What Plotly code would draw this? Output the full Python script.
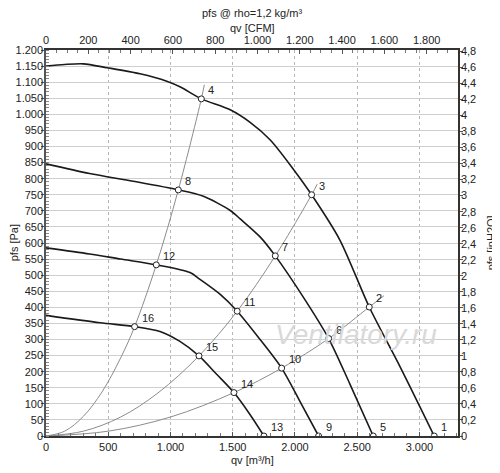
import plotly.graph_objects as go

# fan curves, qv [m3/h] / pfs [Pa]
qv_1 = [0, 150, 300, 490, 755, 970, 1080, 1248, 1480, 1640, 1800, 1990, 2134, 2360, 2597, 2845, 3119]
pf_1 = [1150, 1155, 1157, 1145, 1126, 1103, 1085, 1048, 1014, 975, 921, 828, 750, 610, 401, 215, 0]
qv_2 = [0, 350, 700, 1063, 1265, 1480, 1560, 1720, 1842, 2080, 2271, 2440, 2629]
pf_2 = [846, 816, 792, 765, 745, 701, 675, 619, 560, 424, 303, 163, 0]
qv_3 = [0, 350, 600, 886, 1157, 1240, 1400, 1536, 1720, 1893, 2040, 2190]
pf_3 = [585, 566, 550, 532, 508, 486, 440, 388, 300, 211, 108, 0]
qv_4 = [0, 434, 712, 916, 1076, 1229, 1371, 1510, 1640, 1751]
pf_4 = [375, 352, 340, 325, 294, 249, 192, 135, 66, 0]

# system curves
sys_a_qv = [0, 150, 300, 450, 600, 712, 886, 1063, 1248, 1272]
sys_a_pf = [0, 15, 61, 137, 243, 340, 532, 765, 1048, 1092]
sys_b_qv = [0, 300, 600, 900, 1229, 1536, 1842, 2134, 2179]
sys_b_pf = [0, 15, 59, 134, 249, 388, 560, 750, 783]
sys_c_qv = [0, 500, 1000, 1510, 1893, 2271, 2597, 2715]
sys_c_pf = [0, 15, 59, 135, 211, 303, 401, 436]

# operating points
op_labels = ['1', '2', '3', '4', '5', '6', '7', '8',
             '9', '10', '11', '12', '13', '14', '15', '16']
op_qv = [3119, 2597, 2134, 1248, 2629, 2271, 1842, 1063,
         2190, 1893, 1536, 886, 1751, 1510, 1229, 712]
op_pf = [0, 401, 750, 1048, 0, 303, 560, 765,
         0, 211, 388, 532, 0, 135, 249, 340]

# ticks
pa_ticks = list(range(0, 1201, 50))
pa_text = ['0', '50', '100', '150', '200', '250', '300', '350', '400', '450',
           '500', '550', '600', '650', '700', '750', '800', '850', '900',
           '950', '1.000', '1.050', '1.100', '1.150', '1.200']
inh2o_ticks = [i * 0.2 for i in range(25)]
inh2o_text = ['0', '0,2', '0,4', '0,6', '0,8', '1', '1,2', '1,4', '1,6', '1,8',
              '2', '2,2', '2,4', '2,6', '2,8', '3', '3,2', '3,4', '3,6', '3,8',
              '4', '4,2', '4,4', '4,6', '4,8']
qv_ticks = [0, 500, 1000, 1500, 2000, 2500, 3000]
qv_text = ['0', '500', '1.000', '1.500', '2.000', '2.500', '3.000']
cfm_ticks = [0, 200, 400, 600, 800, 1000, 1200, 1400, 1600, 1800]
cfm_text = ['0', '200', '400', '600', '800', '1.000', '1.200', '1.400',
            '1.600', '1.800']

QV_MAX = 3310
PA_MAX = 1200
M3H_PER_CFM = 1.699
PA_PER_INH2O = 249.089

fig = go.Figure()

for sx, sy in [(sys_a_qv, sys_a_pf), (sys_b_qv, sys_b_pf), (sys_c_qv, sys_c_pf)]:
    fig.add_trace(go.Scatter(x=sx, y=sy, mode='lines',
                             line=dict(color='#8c8c8c', width=1, shape='spline'),
                             hoverinfo='skip'))

for fx, fy in [(qv_1, pf_1), (qv_2, pf_2), (qv_3, pf_3), (qv_4, pf_4)]:
    fig.add_trace(go.Scatter(x=fx, y=fy, mode='lines',
                             line=dict(color='#1a1a1a', width=1.6, shape='spline',
                                       smoothing=0.8),
                             hoverinfo='skip'))

fig.add_trace(go.Scatter(
    x=op_qv, y=op_pf, mode='markers',
    marker=dict(symbol='circle', size=6, color='white',
                line=dict(color='#222', width=1)),
    text=op_labels, hovertemplate='%{text}<extra></extra>'))

# same points in CFM / inH2O, invisible, so the secondary axes get drawn
fig.add_trace(go.Scatter(
    x=[q / M3H_PER_CFM for q in op_qv], y=[p / PA_PER_INH2O for p in op_pf],
    xaxis='x2', yaxis='y2', mode='markers', marker=dict(opacity=0),
    hoverinfo='skip'))

for lab, qx, py in zip(op_labels, op_qv, op_pf):
    fig.add_annotation(x=qx, y=py, text=lab, showarrow=False,
                       xanchor='left', yanchor='bottom', xshift=5, yshift=1,
                       font=dict(size=11, color='#222'))

# watermark
fig.add_annotation(x=0.753, y=0.263, xref='paper', yref='paper',
                   xanchor='center', yanchor='middle',
                   text='<i>Ventilatory.ru</i>', showarrow=False,
                   font=dict(size=28, color='#d9d9d9', family='Liberation Sans'))

# titles
titles = [
    (0.5, 1.096, 'pfs @ rho=1,2 kg/m³', 0),
    (0.5, 1.057, 'qv [CFM]', 0),
    (0.5, -0.063, 'qv [m³/h]', 0),
    (-0.077, 0.5, 'pfs [Pa]', -90),
    (1.081, 0.5, 'pfs [inH2O]', -90),
]
for tx, ty, txt, ang in titles:
    fig.add_annotation(x=tx, y=ty, xref='paper', yref='paper', showarrow=False,
                       xanchor='center', yanchor='middle', text=txt,
                       textangle=ang, font=dict(size=11))

# the page body adds an 8px offset, so margins are set 8px smaller on left/top
fig.update_layout(
    width=500, height=473,
    margin=dict(l=38, r=50, t=42, b=45, autoexpand=False),
    paper_bgcolor='white', plot_bgcolor='white',
    showlegend=False,
    font=dict(family='Liberation Sans, Arial, sans-serif', size=11, color='#222'),
    xaxis=dict(range=[0, QV_MAX], tickmode='array', tickvals=qv_ticks,
               ticktext=qv_text, showgrid=True, gridcolor='#b4b4b4',
               griddash='dot', gridwidth=1, zeroline=False,
               showline=True, linecolor='#333', linewidth=1.5,
               ticks='inside', ticklen=4, tickcolor='#555',
               minor=dict(tickmode='linear', tick0=0, dtick=100, ticks='inside',
                          ticklen=3, tickcolor='#777', showgrid=False)),
    xaxis2=dict(range=[0, QV_MAX / M3H_PER_CFM], overlaying='x', side='top',
                anchor='y2', tickmode='array', tickvals=cfm_ticks,
                ticktext=cfm_text, showgrid=False, zeroline=False,
                showline=True, linecolor='#333', linewidth=1.5,
                ticks='inside', ticklen=4, tickcolor='#555',
                minor=dict(tickmode='linear', tick0=0, dtick=50, ticks='inside',
                           ticklen=3, tickcolor='#777', showgrid=False)),
    yaxis=dict(range=[0, PA_MAX], tickmode='array', tickvals=pa_ticks,
               ticktext=pa_text, showgrid=True, gridcolor='#cfcfcf',
               gridwidth=1, zeroline=False,
               showline=True, linecolor='#555', linewidth=1.5,
               ticks='outside', ticklen=3, tickcolor='#555',
               ticklabelstandoff=-4,
               minor=dict(tickmode='linear', tick0=0, dtick=10, ticks='inside',
                          ticklen=3, tickcolor='#888', showgrid=False)),
    yaxis2=dict(range=[0, PA_MAX / PA_PER_INH2O], overlaying='y', side='right',
                anchor='x2', tickmode='array', tickvals=inh2o_ticks,
                ticktext=inh2o_text, showgrid=False, zeroline=False,
                showline=True, linecolor='#333', linewidth=1.5,
                ticks='outside', ticklen=3, tickcolor='#555',
                ticklabelstandoff=-4),
)

fig.write_html("out.html")
